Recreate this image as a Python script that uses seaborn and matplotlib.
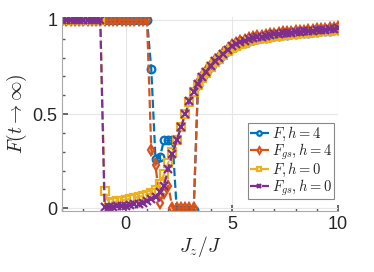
import numpy as np
import pandas as pd
import matplotlib
matplotlib.use('Agg')
import matplotlib.pyplot as plt
import seaborn as sns
from matplotlib.ticker import MultipleLocator

# data
jz = [-3.0, -2.8, -2.6, -2.4, -2.2, -2.0, -1.8, -1.6, -1.4, -1.2,
      -1.0, -0.8, -0.6, -0.4, -0.2, 0.0, 0.2, 0.4, 0.6, 0.8,
      1.0, 1.2, 1.4, 1.6, 1.8, 2.0, 2.2, 2.4, 2.6, 2.8,
      3.0, 3.2, 3.4, 3.6, 3.8, 4.0, 4.2, 4.4, 4.6, 4.8,
      5.0, 5.2, 5.4, 5.6, 5.8, 6.0, 6.2, 6.4, 6.6, 6.8,
      7.0, 7.2, 7.4, 7.6, 7.8, 8.0, 8.2, 8.4, 8.6, 8.8,
      9.0, 9.2, 9.4, 9.6, 9.8, 10.0]

f_h4 = [1, 1, 1, 1, 1, 1, 1, 1, 1, 1,
        1, 1, 1, 1, 1, 1, 1, 1, 1, 1,
        1.0, 0.74, 0.26, 0.27, 0.36, 0.36, 0.36, -0.01, -0.01, -0.01,
        -0.01, -0.01, 0.655, 0.69, 0.72, 0.75, 0.775, 0.795, 0.815, 0.833,
        0.85, 0.862, 0.872, 0.88, 0.887, 0.893, 0.898, 0.902, 0.906, 0.91,
        0.913, 0.916, 0.919, 0.922, 0.925, 0.927, 0.929, 0.931, 0.933, 0.935,
        0.937, 0.939, 0.941, 0.943, 0.945, 0.947]

fgs_h4 = [1, 1, 1, 1, 1, 1, 1, 1, 1, 1,
          1, 1, 1, 1, 1, 1, 1, 1, 1, 1,
          1.0, 0.31, 0.23, 0.03, 0.08, 0.12, 0.0, 0.0, 0.0, 0.0,
          0.0, 0.0, 0.665, 0.70, 0.73, 0.76, 0.785, 0.805, 0.825, 0.845,
          0.865, 0.877, 0.887, 0.895, 0.902, 0.908, 0.913, 0.917, 0.921, 0.925,
          0.928, 0.931, 0.934, 0.936, 0.938, 0.94, 0.942, 0.944, 0.946, 0.948,
          0.95, 0.952, 0.954, 0.956, 0.958, 0.96]

f_h0 = [1, 1, 1, 1, 1, 1, 1, 1, 1, 1,
        0.09, 0.03, 0.032, 0.036, 0.04, 0.045, 0.05, 0.055, 0.06, 0.065,
        0.072, 0.08, 0.095, 0.13, 0.18, 0.24, 0.30, 0.36, 0.43, 0.50,
        0.565, 0.615, 0.655, 0.69, 0.72, 0.75, 0.775, 0.795, 0.815, 0.833,
        0.85, 0.862, 0.872, 0.88, 0.887, 0.893, 0.898, 0.902, 0.906, 0.91,
        0.913, 0.916, 0.919, 0.922, 0.925, 0.927, 0.929, 0.931, 0.933, 0.935,
        0.937, 0.939, 0.941, 0.943, 0.945, 0.947]

fgs_h0 = [1, 1, 1, 1, 1, 1, 1, 1, 1, 1,
          0.005, 0.007, 0.009, 0.010, 0.012, 0.014, 0.017, 0.020, 0.024, 0.030,
          0.037, 0.047, 0.062, 0.085, 0.12, 0.21, 0.29, 0.36, 0.43, 0.50,
          0.57, 0.62, 0.66, 0.695, 0.725, 0.755, 0.78, 0.80, 0.82, 0.84,
          0.86, 0.872, 0.882, 0.89, 0.897, 0.903, 0.908, 0.912, 0.916, 0.92,
          0.923, 0.926, 0.929, 0.931, 0.933, 0.935, 0.937, 0.939, 0.941, 0.943,
          0.945, 0.947, 0.949, 0.951, 0.953, 0.955]

labels = [r'$F, h=4$', r'$F_{gs}, h=4$', r'$F, h=0$', r'$F_{gs}, h=0$']
colors = ['#0072BD', '#D95319', '#EDB120', '#7E2F8E']
markers = ['o', 'd', 's', 'x']
series = [f_h4, fgs_h4, f_h0, fgs_h0]

sns.set_theme(style='ticks')
plt.rcParams['font.family'] = ['Liberation Sans', 'DejaVu Sans']
plt.rcParams['mathtext.fontset'] = 'cm'

fig = plt.figure(figsize=(3.74, 2.72), dpi=100)
ax = fig.add_axes([0.166, 0.224, 0.738, 0.713])

for vals, lab, col, mk in zip(series, labels, colors, markers):
    sns.lineplot(x=jz, y=vals, ax=ax, color=col, label=lab,
                 linestyle='--', linewidth=1.6, marker=mk, markersize=5.5,
                 markerfacecolor='none', markeredgecolor=col,
                 markeredgewidth=1.6)

ax.set_xlim(-3, 10)
ax.set_ylim(-0.015, 1.015)
ax.set_xticks([0, 5, 10])
ax.set_xticklabels(['0', '5', '10'])
ax.set_yticks([0, 0.5, 1])
ax.set_yticklabels(['0', '0.5', '1'])
ax.xaxis.set_minor_locator(MultipleLocator(1))
ax.yaxis.set_minor_locator(MultipleLocator(0.1))
ax.tick_params(which='both', direction='in', colors='#555555',
               labelcolor='#262626', labelsize=13)
ax.tick_params(which='major', length=4)
ax.tick_params(which='minor', length=2)
ax.grid(True, which='major', color='#e6e6e6', linewidth=0.8)
ax.set_axisbelow(True)
for s in ['top', 'right']:
    ax.spines[s].set_visible(False)
for s in ['left', 'bottom']:
    ax.spines[s].set_color('#aaaaaa')
    ax.spines[s].set_linewidth(0.8)

ax.set_xlabel(r'$J_z/J$', fontsize=14, labelpad=1)
ax.set_ylabel(r'$F(t\to\infty)$', fontsize=14, labelpad=2)

leg = ax.legend(loc='lower right', bbox_to_anchor=(0.985, 0.06),
                fontsize=10.5, handlelength=1.3, handletextpad=0.2,
                borderpad=0.12, labelspacing=-0.1, fancybox=False,
                framealpha=1, edgecolor='#888888', borderaxespad=0,
                markerscale=0.6)
leg.get_frame().set_linewidth(0.8)

fig.savefig('out.png', dpi=100)
